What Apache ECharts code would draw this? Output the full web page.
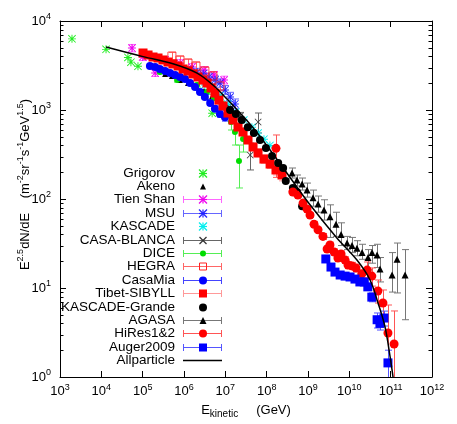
<!DOCTYPE html>
<html>
<head>
<meta charset="utf-8">
<script src="https://cdn.jsdelivr.net/npm/echarts@6/dist/echarts.min.js"></script>
<style>
html, body { margin: 0; padding: 0; background: #fff; }
#chart { width: 457px; height: 424px; }
</style>
</head>
<body>
<div id="chart"></div>
<script>
// E (GeV), E^2.5 dN/dE  [, low, high]
var grigorovData = [[1.95e3, 6300], [1.3e4, 4800], [4.4e4, 3900], [5.2e4, 3450], [7.7e4, 3100], [5.5e5, 3300], [4.8e6, 920]];
var akenoData = [[3.5e5, 2540], [5.1e5, 2410], [8.0e5, 2170], [1.25e6, 2010], [1.95e6, 1810], [3.05e6, 1630], [4.8e6, 1440], [7.4e6, 1260], [1.16e7, 1080], [1.8e7, 950]];
var tienShanData = [[5.5e4, 4970, 4500, 5450], [1.0e5, 3940, 3600, 4300], [2.0e5, 2600, 2380, 2850], [3.5e5, 3650, 3350, 3980], [8.0e5, 3370, 3080, 3680], [1.56e6, 3040, 2780, 3320], [3.05e6, 2810, 2560, 3080], [5.3e6, 2470, 2250, 2710], [9.3e6, 2170, 1960, 2400]];
var msuData = [[1.4e6, 2810, 2550, 3090], [2.07e6, 2670, 2420, 2940], [2.9e6, 2540, 2300, 2800], [4.0e6, 2350, 2120, 2600], [5.6e6, 2170, 1950, 2410], [7.4e6, 2010, 1800, 2240], [9.8e6, 1680, 1500, 1880], [1.3e7, 1400, 1240, 1580], [1.7e7, 1170, 1030, 1330]];
var kascadeData = [[3.2e6, 1910], [4.8e6, 1680], [7.4e6, 1440], [1.16e7, 1170], [1.8e7, 950], [2.8e7, 770], [4.4e7, 640], [6.2e7, 550], [8.6e7, 470], [1.2e8, 400]];
var casaBlancaData = [[7.4e6, 1360, 1250, 1480], [1.3e7, 1050, 960, 1150], [2.3e7, 856, 780, 940], [4.0e7, 312, 212, 426], [6.2e7, 733, 552, 925]];
var diceData = [[2.6e5, 2670, 2540, 2800], [6.8e5, 2170, 2060, 2280], [2.07e6, 1910, 1810, 2010], [3.6e6, 1590, 1500, 1690], [5.3e6, 1360, 1270, 1460], [8.3e6, 1140, 1050, 1240], [1.37e7, 733, 596, 879], [1.71e7, 566, 404, 772], [2.14e7, 267, 133, 404], [2.68e7, 472, 337, 552]];
var hegraData = [[5.1e5, 4040, 3660, 4450], [8.0e5, 3650, 3300, 4030], [1.25e6, 3370, 3040, 3730], [1.95e6, 3120, 2810, 3460], [3.2e6, 2740, 2460, 3050], [5.0e6, 2410, 2150, 2700], [7.4e6, 1860, 1640, 2110]];
var casaMiaData = [[1.5e5, 3120, 3000, 3250], [2.0e5, 3040, 2920, 3170], [2.6e5, 2890, 2780, 3010], [3.5e5, 2740, 2630, 2860], [4.6e5, 2600, 2490, 2710], [6.1e5, 2470, 2370, 2580], [8.0e5, 2350, 2250, 2460], [1.06e6, 2230, 2130, 2340], [1.4e6, 2010, 1920, 2110], [1.85e6, 1810, 1720, 1910], [2.44e6, 1590, 1510, 1680], [3.2e6, 1400, 1320, 1490], [4.3e6, 1200, 1130, 1280], [5.6e6, 1030, 960, 1110], [7.4e6, 900, 830, 980], [9.8e6, 830, 750, 920]];
var tibetData = [[1.02e5, 4370, 4160, 4590], [1.35e5, 4150, 3950, 4360], [1.78e5, 3940, 3750, 4140], [2.35e5, 3840, 3650, 4040], [3.1e5, 3650, 3470, 3840], [4.1e5, 3460, 3290, 3640], [5.4e5, 3290, 3130, 3460], [7.2e5, 3120, 2960, 3290], [9.5e5, 2890, 2740, 3050], [1.25e6, 2740, 2600, 2890], [1.65e6, 2540, 2410, 2680], [2.18e6, 2350, 2230, 2480], [2.88e6, 2170, 2050, 2300], [3.6e6, 2010, 1900, 2130], [4.5e6, 1770, 1670, 1880], [5.6e6, 1550, 1460, 1650], [7.0e6, 1290, 1210, 1380], [8.8e6, 1110, 1040, 1190], [1.16e7, 925, 860, 995], [1.53e7, 772, 715, 835], [2.03e7, 644, 595, 700], [2.68e7, 566, 520, 615], [3.54e7, 460, 420, 505], [4.68e7, 384, 350, 425], [6.18e7, 329, 298, 365], [8.6e7, 281, 252, 314], [1.21e8, 247, 220, 278], [1.68e8, 212, 186, 242], [2.35e8, 186, 160, 216]];
var kascadeGrandeData = [[1.3e7, 1000], [1.8e7, 900], [2.5e7, 770], [3.5e7, 640], [4.9e7, 550], [6.9e7, 460], [9.6e7, 374], [1.35e8, 304], [1.9e8, 254], [2.5e8, 223], [2.9e8, 159], [4.3e8, 133], [5.4e8, 120], [7.2e8, 83]];
var agasaData = [[4.1e8, 196, 172, 223], [5.4e8, 163, 140, 186], [7.2e8, 147, 126, 172], [9.5e8, 126, 105, 151], [1.32e9, 103, 83, 126], [1.75e9, 88, 71, 108], [2.44e9, 75, 58, 98], [3.41e9, 63, 37, 86], [4.76e9, 52, 38, 71], [6.3e9, 40, 30, 54], [8.8e9, 32, 27, 38], [1.16e10, 30, 25, 37], [1.53e10, 28, 23, 34], [2.03e10, 25, 21, 31], [2.83e10, 22, 16, 27], [3.54e10, 25, 19, 30], [4.68e10, 23.5, 17, 31], [5.53e10, 16.3, 11.7, 22], [1.08e11, 14, 9, 25], [1.43e11, 21, 8.8, 32], [2.23e11, 14, 4.4, 27]];
var hiresData = [[1.68e8, 371, 175, 524], [4.3e8, 120, 113, 127], [5.7e8, 111, 105, 118], [7.6e8, 90, 85, 96], [9.5e8, 77, 72, 82], [1.12e9, 66, 62, 70], [1.4e9, 52, 49, 56], [1.75e9, 45, 42, 48], [2.3e9, 38, 35, 41], [2.9e9, 27.4, 25.5, 29.5], [3.4e9, 30.4, 28.3, 32.7], [4.3e9, 25.4, 23.5, 27.4], [5.3e9, 21.7, 20, 23.5], [6.3e9, 24.1, 22.2, 26.1], [7.9e9, 20.6, 18.9, 22.4], [9.3e9, 18.1, 16.5, 19.8], [1.16e10, 17.7, 16.1, 19.4], [1.45e10, 16.8, 15.2, 18.5], [2.0e10, 14.4, 12.9, 16.0], [2.7e10, 15.9, 13.0, 19.6], [3.5e10, 13.6, 10.5, 16.8], [4.9e10, 9.25, 6.78, 12.3], [6.5e10, 6.78, 4.6, 9.5], [8.6e10, 3.12, 1, 6.44], [1.21e11, 2.35, 1, 5.52]];
var augerData = [[2.7e9, 21.2, 20.4, 22.0], [3.6e9, 17.2, 16.6, 17.8], [4.5e9, 15.1, 14.6, 15.6], [6.0e9, 14.0, 13.5, 14.5], [7.9e9, 13.6, 13.1, 14.1], [1.04e10, 13.3, 12.8, 13.8], [1.37e10, 12.6, 12.1, 13.1], [1.8e10, 11.7, 11.2, 12.2], [2.3e10, 11.7, 11.1, 12.3], [2.8e10, 10.3, 9.7, 10.9], [3.5e10, 7.9, 7.0, 8.8], [4.7e10, 4.4, 3.55, 5.24], [5.5e10, 4.0, 3.37, 4.85], [6.9e10, 4.6, 3.74, 5.5], [8.6e10, 1.44, 1, 2.0]];
var allparticleData = [[1.3e4, 5100], [1.02e5, 3980], [5.4e5, 3310], [2.07e6, 2600], [5.0e6, 1910], [1.1e7, 1330], [2.27e7, 925], [5.2e7, 596], [1.21e8, 355], [3.3e8, 187], [1.12e9, 86], [5.0e9, 36.5], [1.53e10, 20.6], [3.17e10, 12.3], [4.94e10, 6.8], [7.3e10, 3.65], [9.7e10, 1.68], [1.14e11, 1.0]];

var legendNames = ['Grigorov', 'Akeno', 'Tien Shan', 'MSU', 'KASCADE', 'CASA-BLANCA', 'DICE', 'HEGRA', 'CasaMia', 'Tibet-SIBYLL', 'KASCADE-Grande', 'AGASA', 'HiRes1&2', 'Auger2009', 'Allparticle'];
var yMinorTicks = [2, 3, 4, 5, 6, 7, 8, 9, 20, 30, 40, 50, 60, 70, 80, 90, 200, 300, 400, 500, 600, 700, 800, 900, 2000, 3000, 4000, 5000, 6000, 7000, 8000, 9000];

var FONT = 'Liberation Sans';
var STAR = 'path://M4.4,0H5.6V10H4.4Z M0,4.4H10V5.6H0Z M0.8,0L10,9.2L9.2,10L0,0.8Z M9.2,0L10,0.8L0.8,10L0,9.2Z';
var CROSS = 'path://M0.8,0L10,9.2L9.2,10L0,0.8Z M9.2,0L10,0.8L0.8,10L0,9.2Z';

var styles = {
	'Grigorov': { data: grigorovData, mark: 'star', color: '#22ee22', size: 8 },
	'Akeno': { data: akenoData, mark: 'tri', color: '#000', size: 6 },
	'Tien Shan': { data: tienShanData, mark: 'star', color: '#ee00ee', bar: '#ff66ff', size: 8 },
	'MSU': { data: msuData, mark: 'star', color: '#2222ff', bar: '#6666ff', size: 8 },
	'KASCADE': { data: kascadeData, mark: 'star', color: '#00eeee', size: 8 },
	'CASA-BLANCA': { data: casaBlancaData, mark: 'cross', color: '#333', bar: '#666', size: 7 },
	'DICE': { data: diceData, mark: 'circle', color: '#00dd00', bar: '#55ee55', size: 6 },
	'HEGRA': { data: hegraData, mark: 'openrect', color: '#ff2222', bar: '#ff6666', size: 8 },
	'CasaMia': { data: casaMiaData, mark: 'circle', color: '#0000ff', bar: '#4444ff', size: 8 },
	'Tibet-SIBYLL': { data: tibetData, mark: 'rect', color: '#ff0000', bar: '#ff9999', size: 9 },
	'KASCADE-Grande': { data: kascadeGrandeData, mark: 'circle', color: '#000', size: 8 },
	'AGASA': { data: agasaData, mark: 'tri', color: '#000', bar: '#777', size: 7 },
	'HiRes1&2': { data: hiresData, mark: 'circle', color: '#ff0000', bar: '#ff5555', size: 9 },
	'Auger2009': { data: augerData, mark: 'rect', color: '#0000ff', bar: '#5555ff', size: 9 },
	'Allparticle': { data: allparticleData, mark: 'line', color: '#000' }
};

function powLabel(v) {
	var e = Math.round(Math.log(v) / Math.LN10);
	return '{b|10}{sup|' + e + '}';
}
var labelRich = {
	b: { fontSize: 13, fontFamily: FONT, color: '#000' },
	sup: { fontSize: 9, fontFamily: FONT, color: '#000', padding: [0, 0, 8, 0] }
};

function errorSeries(name, st) {
	return {
		type: 'custom', name: name + ' errors', data: st.data, clip: true, silent: true,
		encode: { x: 0, y: [1, 2, 3] },
		renderItem: function (params, api) {
			var x = api.value(0);
			var lo = api.coord([x, api.value(2)]);
			var hi = api.coord([x, api.value(3)]);
			var px = Math.round(lo[0]) + 0.5, w = 3.5;
			var s = { stroke: st.bar, lineWidth: 1 };
			var kids = [
				{ type: 'line', shape: { x1: px, y1: lo[1], x2: px, y2: hi[1] }, style: s },
				{ type: 'line', shape: { x1: px - w, y1: hi[1], x2: px + w, y2: hi[1] }, style: s }
			];
			if (api.value(2) > 1) {
				kids.push({ type: 'line', shape: { x1: px - w, y1: lo[1], x2: px + w, y2: lo[1] }, style: s });
			}
			return { type: 'group', children: kids };
		}
	};
}

var series = [{
	type: 'custom', data: yMinorTicks.map(function (v) { return [1e3, v]; }),
	encode: { x: 0, y: 1 }, silent: true, z: 5,
	renderItem: function (params, api) {
		var cs = params.coordSys;
		var y = Math.round(api.coord([1e3, api.value(1)])[1]) + 0.5;
		var s = { stroke: '#000', lineWidth: 1 };
		return { type: 'group', children: [
			{ type: 'line', shape: { x1: cs.x, y1: y, x2: cs.x + 3.5, y2: y }, style: s },
			{ type: 'line', shape: { x1: cs.x + cs.width - 3.5, y1: y, x2: cs.x + cs.width, y2: y }, style: s }
		] };
	}
}];

legendNames.forEach(function (name) {
	var st = styles[name];
	if (st.mark === 'line') {
		series.push({
			type: 'line', name: name, data: st.data, showSymbol: false, smooth: 0.35,
			lineStyle: { color: st.color, width: 1.5 }, silent: true
		});
		return;
	}
	if (st.bar) series.push(errorSeries(name, st));
	var sym = { star: STAR, cross: CROSS, tri: 'triangle', circle: 'circle', rect: 'rect', openrect: 'rect' }[st.mark];
	series.push({
		type: 'scatter', name: name, data: st.data.map(function (d) { return [d[0], d[1]]; }),
		symbol: sym, symbolSize: st.size, silent: true,
		itemStyle: st.mark === 'openrect'
			? { color: 'rgba(0,0,0,0)', borderColor: st.color, borderWidth: 1 }
			: { color: st.color, opacity: 1 }
	});
});

// key, drawn like the gnuplot key
function markerEls(st, cx, cy) {
	var s = Math.min(st.size, 8), h = s / 2, c = st.color;
	function ln(x1, y1, x2, y2) {
		return { type: 'line', z: 100, shape: { x1: x1, y1: y1, x2: x2, y2: y2 }, style: { stroke: c, lineWidth: 1.2 } };
	}
	if (st.mark === 'star') return [ln(cx - h, cy, cx + h, cy), ln(cx, cy - h, cx, cy + h), ln(cx - h, cy - h, cx + h, cy + h), ln(cx - h, cy + h, cx + h, cy - h)];
	if (st.mark === 'cross') return [ln(cx - h, cy - h, cx + h, cy + h), ln(cx - h, cy + h, cx + h, cy - h)];
	if (st.mark === 'tri') return [{ type: 'polygon', z: 100, shape: { points: [[cx, cy - h], [cx + h, cy + h], [cx - h, cy + h]] }, style: { fill: c } }];
	if (st.mark === 'circle') return [{ type: 'circle', z: 100, shape: { cx: cx, cy: cy, r: h }, style: { fill: c } }];
	if (st.mark === 'rect') return [{ type: 'rect', z: 100, shape: { x: cx - h, y: cy - h, width: s, height: s }, style: { fill: c } }];
	return [{ type: 'rect', z: 100, shape: { x: cx - h + 0.5, y: cy - h + 0.5, width: s - 1, height: s - 1 }, style: { fill: 'none', stroke: c } }];
}

var keyEls = [];
legendNames.forEach(function (name, i) {
	var st = styles[name];
	var y = Math.round(172.7 + i * 13.38) + 0.5;
	keyEls.push({ type: 'text', z: 100, x: 175, y: y, style: { text: name, fontSize: 13.5, fontFamily: FONT, fill: '#000', align: 'right', verticalAlign: 'middle' } });
	if (st.mark === 'line') {
		keyEls.push({ type: 'line', z: 100, shape: { x1: 183, y1: y, x2: 222, y2: y }, style: { stroke: '#000', lineWidth: 1.5 } });
		return;
	}
	if (st.bar) {
		var bs = { stroke: st.bar, lineWidth: 1 };
		keyEls.push({ type: 'line', z: 100, shape: { x1: 183, y1: y, x2: 222, y2: y }, style: bs });
		keyEls.push({ type: 'line', z: 100, shape: { x1: 183.5, y1: y - 3.5, x2: 183.5, y2: y + 3.5 }, style: bs });
		keyEls.push({ type: 'line', z: 100, shape: { x1: 221.5, y1: y - 3.5, x2: 221.5, y2: y + 3.5 }, style: bs });
	}
	keyEls = keyEls.concat(markerEls(st, 203, y));
});

keyEls.push({
	type: 'text', z: 100, x: 25, y: 184.5, rotation: Math.PI / 2,
	style: {
		text: '{b|E}{sup|2.5}{b|dN/dE    (m}{sup|-2}{b|sr}{sup|-1}{b|s}{sup|-1}{b|GeV}{sup|1.5}{b|)}',
		fontSize: 13, fontFamily: FONT, fill: '#000', align: 'center', verticalAlign: 'middle',
		rich: {
			b: { fontSize: 13, fontFamily: FONT, fill: '#000' },
			sup: { fontSize: 9, fontFamily: FONT, fill: '#000', padding: [0, 0, 8, 0] }
		}
	}
});

function logAxis(pos, min, max, showLabel) {
	return {
		type: 'log', logBase: 10, min: min, max: max, interval: 1, position: pos,
		axisLine: { show: true, lineStyle: { color: '#000', width: 1 } },
		axisTick: { show: true, inside: true, length: 6, lineStyle: { color: '#000' } },
		axisLabel: { show: showLabel, interval: 0, margin: pos === 'left' ? 9 : 6, formatter: powLabel, rich: labelRich },
		splitLine: { show: false },
		minorTick: { show: false }
	};
}

var xMain = logAxis('bottom', 1e3, 1e12, true);
xMain.name = '{b|E}{sub|kinetic}{b|     (GeV)}';
xMain.nameLocation = 'middle';
xMain.nameGap = 25;
xMain.nameTextStyle = {
	rich: {
		b: { fontSize: 13, fontFamily: FONT, color: '#000' },
		sub: { fontSize: 10, fontFamily: FONT, color: '#000', padding: [7, 0, 0, 0] }
	}
};

var chart = echarts.init(document.getElementById('chart'), null, { renderer: 'canvas' });
chart.setOption({
	animation: false,
	backgroundColor: '#fff',
	textStyle: { fontFamily: FONT },
	grid: { left: 60, right: 25, top: 21, bottom: 47, containLabel: false },
	xAxis: [xMain, logAxis('top', 1e3, 1e12, false)],
	yAxis: [logAxis('left', 1, 1e4, true), logAxis('right', 1, 1e4, false)],
	graphic: keyEls,
	series: series
});
</script>
</body>
</html>
